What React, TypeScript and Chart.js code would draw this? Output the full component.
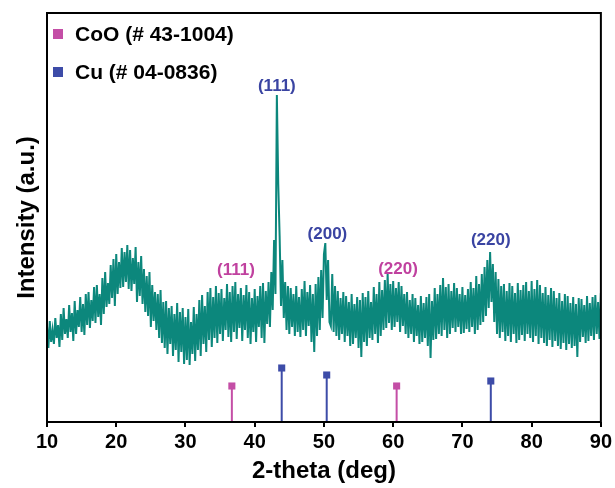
import React, { useEffect, useRef } from 'react';
import { Chart, registerables } from 'chart.js';

Chart.register(...registerables);

// 2-theta sampling grid of the measured pattern
const TWO_THETA_START = 10;
const TWO_THETA_STEP = 0.2;

// Measured intensity (a.u.), one value per 0.2 deg from 10 to 90 deg
const intensity = [
  96, 74, 101, 80, 92,
  78, 104, 84, 97, 75,
  108, 82, 114, 88, 103,
  84, 117, 90, 109, 81,
  121, 88, 112, 95, 125,
  90, 118, 87, 128, 97,
  130, 94, 122, 101, 135,
  99, 137, 105, 128, 97,
  144, 108, 150, 115, 139,
  118, 157, 124, 163, 116,
  168, 128, 160, 134, 174,
  135, 170, 140, 177, 133,
  172, 131, 164, 138, 175,
  120, 160, 126, 166, 118,
  153, 110, 146, 106, 150,
  95, 137, 101, 130, 92,
  128, 84, 132, 79, 120,
  74, 121, 68, 114, 78,
  116, 66, 108, 72, 119,
  60, 110, 70, 114, 58,
  105, 62, 113, 57, 100,
  68, 115, 61, 108, 72,
  122, 66, 127, 78, 116,
  70, 130, 82, 134, 75,
  125, 84, 136, 79, 129,
  88, 133, 81, 124, 92,
  138, 85, 130, 80, 136,
  90, 140, 83, 128, 94,
  134, 81, 127, 92, 137,
  84, 130, 78, 124, 90,
  133, 80, 126, 95, 136,
  84, 139, 79, 131, 98,
  140, 95, 150, 112, 182,
  128, 327, 238, 186, 116,
  162, 104, 140, 92, 136,
  88, 134, 95, 128, 86,
  136, 90, 125, 85, 133,
  92, 141, 86, 130, 96,
  137, 80, 128, 70, 138,
  86, 145, 92, 152, 104,
  168, 179, 122, 162, 100,
  96, 148, 90, 136, 86,
  131, 82, 124, 88, 130,
  80, 126, 86, 120, 76,
  128, 78, 118, 84, 125,
  74, 122, 65, 129, 80,
  125, 76, 131, 84, 120,
  82, 135, 88, 128, 79,
  140, 86, 132, 92, 142,
  94, 148, 99, 138, 92,
  141, 95, 134, 100, 140,
  90, 136, 96, 128, 88,
  130, 84, 122, 88, 128,
  80, 124, 86, 117, 78,
  126, 80, 119, 84, 125,
  76, 128, 64, 121, 82,
  134, 83, 128, 88, 137,
  86, 144, 92, 135, 84,
  138, 88, 131, 94, 139,
  90, 134, 95, 128, 88,
  135, 89, 127, 93, 133,
  90, 140, 95, 134, 88,
  146, 92, 138, 97, 148,
  100, 155, 106, 162, 114,
  170, 120, 158, 100, 150,
  88, 143, 84, 136, 90,
  138, 81, 131, 86, 139,
  80, 136, 88, 129, 79,
  139, 82, 132, 87, 137,
  81, 140, 88, 131, 84,
  141, 80, 133, 86, 142,
  78, 137, 84, 129, 79,
  135, 76, 127, 82, 134,
  75, 131, 81, 124, 76,
  129, 73, 121, 79, 128,
  72, 126, 78, 119, 74,
  125, 76, 118, 65, 124,
  80, 123, 85, 117, 79,
  126, 81, 119, 86, 125,
  82, 127, 88, 120, 83,
  129,
];

// Reference patterns
const cooLabel = 'CoO (# 43-1004)';
const cooPositions = [36.7, 60.5];
const cooHeights = [36, 36];
const cuLabel = 'Cu (# 04-0836)';
const cuPositions = [43.9, 50.4, 74.1];
const cuHeights = [54, 47, 41];

// Peak annotations (text, 2-theta, intensity, phase)
const peakTexts = ['(111)', '(200)', '(220)', '(111)', '(220)'];
const peakTheta = [43.2, 50.5, 74.1, 37.3, 60.7];
const peakLevel = [336, 188, 182, 152, 153];
const peakPhase = ['Cu', 'Cu', 'Cu', 'CoO', 'CoO'];

// Axis
const X_MIN = 10;
const X_MAX = 90;
const X_STEP = 10;
const Y_MAX = 409;

const TEAL = '#0c877c';
const COO_COLOR = '#c44ea6';
const CU_COLOR = '#3d4ca8';
const COO_TEXT = '#c0419f';
const CU_TEXT = '#3a44a2';
const FONT = '"Liberation Sans", Arial, sans-serif';

function stickData(pos: number[], h: number[]) {
  const out: any[] = [];
  pos.forEach((p, i) => {
    out.push({ x: p, y: 0 });
    out.push({ x: p, y: h[i] });
    out.push({ x: p, y: null });
  });
  return out;
}

const overlayPlugin = {
  id: 'overlay',
  afterDatasetsDraw(chart: any) {
    const { ctx, chartArea, scales } = chart;
    const xs = scales.x;
    const ys = scales.y;
    ctx.save();
    ctx.font = `bold 17px ${FONT}`;
    ctx.textAlign = 'center';
    ctx.textBaseline = 'middle';
    peakTexts.forEach((t, i) => {
      ctx.fillStyle = peakPhase[i] === 'Cu' ? CU_TEXT : COO_TEXT;
      ctx.fillText(t, xs.getPixelForValue(peakTheta[i]), ys.getPixelForValue(peakLevel[i]));
    });
    const items = [
      { label: cooLabel, color: COO_COLOR },
      { label: cuLabel, color: CU_COLOR },
    ];
    ctx.font = `bold 21px ${FONT}`;
    ctx.textAlign = 'left';
    items.forEach((it, i) => {
      const cy = chartArea.top + 21 + i * 38;
      ctx.fillStyle = it.color;
      ctx.fillRect(chartArea.left + 6, cy - 5, 10, 10);
      ctx.fillStyle = '#000';
      ctx.fillText(it.label, chartArea.left + 28, cy + 1);
    });
    ctx.strokeStyle = '#000';
    ctx.lineWidth = 2;
    ctx.strokeRect(chartArea.left, chartArea.top, chartArea.right - chartArea.left, chartArea.bottom - chartArea.top);
    ctx.restore();
  },
};

export default function App() {
  const canvasRef = useRef<HTMLCanvasElement | null>(null);

  useEffect(() => {
    const canvas = canvasRef.current;
    if (!canvas) return;
    const mainData = intensity.map((v, i) => ({ x: TWO_THETA_START + i * TWO_THETA_STEP, y: v }));
    const pointR = (c: any) => (c.raw && c.raw.y > 0 ? 5 : 0);
    const chart = new Chart(canvas, {
      type: 'line',
      data: {
        datasets: [
          {
            label: 'XRD',
            data: mainData,
            borderColor: TEAL,
            borderWidth: 2,
            pointRadius: 0,
            tension: 0,
          },
          {
            label: cooLabel,
            data: stickData(cooPositions, cooHeights),
            borderColor: COO_COLOR,
            borderWidth: 2,
            pointRadius: pointR,
            pointStyle: 'rect',
            pointBackgroundColor: COO_COLOR,
            pointBorderWidth: 0,
            spanGaps: false,
          },
          {
            label: cuLabel,
            data: stickData(cuPositions, cuHeights),
            borderColor: CU_COLOR,
            borderWidth: 2,
            pointRadius: pointR,
            pointStyle: 'rect',
            pointBackgroundColor: CU_COLOR,
            pointBorderWidth: 0,
            spanGaps: false,
          },
        ],
      },
      options: {
        animation: false,
        responsive: false,
        devicePixelRatio: 1,
        layout: { padding: { top: 13, right: 13, left: 0, bottom: 0 } },
        plugins: { legend: { display: false }, tooltip: { enabled: false } },
        scales: {
          x: {
            type: 'linear',
            min: X_MIN,
            max: X_MAX,
            afterFit: (s: any) => { s.height = 66; },
            ticks: {
              stepSize: X_STEP,
              color: '#000',
              font: { family: FONT, size: 20, weight: 'bold' },
              padding: 3,
              maxRotation: 0,
            },
            grid: { display: true, drawOnChartArea: false, drawTicks: true, tickLength: 5, color: '#000', lineWidth: 2 },
            border: { display: false },
            title: {
              display: true,
              text: '2-theta (deg)',
              color: '#000',
              font: { family: FONT, size: 24, weight: 'bold' },
              padding: { top: 0, bottom: 2 },
            },
          },
          y: {
            type: 'linear',
            min: 0,
            max: Y_MAX,
            afterFit: (s: any) => { s.width = 47; },
            ticks: { display: false },
            grid: { display: false },
            border: { display: false },
            title: {
              display: true,
              text: 'Intensity (a.u.)',
              color: '#000',
              font: { family: FONT, size: 24, weight: 'bold' },
              padding: { top: 13, bottom: 0 },
            },
          },
        },
      },
      plugins: [overlayPlugin],
    });
    return () => chart.destroy();
  }, []);

  return (
    <div style={{ position: 'absolute', left: 0, top: 0, width: 615, height: 488, background: '#fff' }}>
      <canvas ref={canvasRef} width={615} height={488} style={{ display: 'block' }} />
    </div>
  );
}
